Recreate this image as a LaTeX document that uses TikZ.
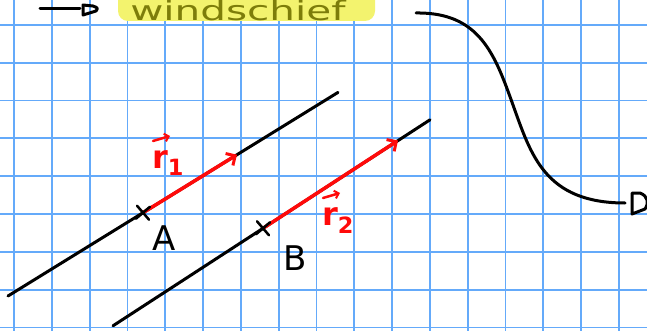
\documentclass[tikz,border=0pt]{standalone}
\usepackage{fontspec}
\setmainfont{DejaVu Sans}
\usetikzlibrary{arrows.meta,calc}
\definecolor{gridblue}{RGB}{100,170,250}
\definecolor{hl}{RGB}{243,243,110}
\definecolor{olivetext}{RGB}{125,125,10}
\definecolor{penred}{RGB}{255,10,10}
\tikzset{
  gridline/.style={gridblue, line width=1.8pt},
  pen/.style={black, line width=3pt, line cap=round, line join=round},
  redpen/.style={penred, line width=3.5pt, line cap=round, line join=round},
  vecarrow/.style={redpen, -{Straight Barb[length=7pt, width=14pt, line width=3pt]}},
  accent/.style={penred, line width=2.5pt, line cap=round, -{Straight Barb[length=4pt, width=8pt, line width=2pt]}},
  lbl/.style={inner sep=0pt, font=\fontsize{34}{34}\selectfont},
  rlbl/.style={inner sep=0pt, text=penred, font=\fontsize{32}{32}\selectfont\bfseries},
}
\begin{document}
\begin{tikzpicture}[x=1pt, y=-1pt]
\useasboundingbox (0,0) rectangle (647,331);
\fill[white] (0,0) rectangle (647,331);
% grid
\foreach \k in {0,...,16} {\draw[gridline] ({14+37.8*\k},0) -- ({14+37.8*\k},331);}
\foreach \k in {0,...,8} {\draw[gridline] (0,{25+37.8*\k}) -- (647,{25+37.8*\k});}
% heading
\coordinate (h0) at (40,9);
\coordinate (h1) at (80,9);
\draw[pen] (h0) -- (h1);
\draw[pen] (83,5) -- (83,15) -- (96,11) .. controls (98,8) .. (93,6) -- cycle;
\fill[hl, rounded corners=10pt] (118,-12) rectangle (375,21);
\node[inner sep=0pt, text=olivetext, font=\fontsize{27}{27}\selectfont, anchor=base west, xscale=1.5] (word) at (130,21) {windschief};
% curve
\coordinate (c0) at (416,13);
\coordinate (c1) at (513,105);
\coordinate (c2) at (625,203);
\draw[pen] (c0) .. controls (480,12) and (495,55) .. (c1)
           .. controls (531,155) and (545,203) .. (c2);
\draw[pen] (632,193) -- (632,214) -- (645,209) .. controls (649,203) and (648,196) .. (640,193) -- cycle;
% lines
\coordinate (A) at (143,212.7);
\coordinate (B) at (263,228.3);
\coordinate (L1s) at (8,296);
\coordinate (L1e) at (338,92.4);
\coordinate (L2s) at (113,325.8);
\coordinate (L2e) at (430,119.8);
\coordinate (T1) at (237,154.7);
\coordinate (T2) at (398,140.5);
\draw[pen] (L1s) -- (L1e);
\draw[pen] (L2s) -- (L2e);
\draw[vecarrow] (A) -- (T1);
\draw[vecarrow] (B) -- (T2);
% crosses
\foreach \p in {A,B} {
  \draw[pen, line width=2.5pt] ($(\p)+(-6,-7)$) -- ($(\p)+(6,7)$);
  \draw[pen, line width=2.5pt] ($(\p)+(-7,6)$) -- ($(\p)+(7,-6)$);
}
% labels
\node[lbl] (la) at (164,238) {A};
\node[lbl] (lb) at (295,258) {B};
\node[rlbl, anchor=base west] (r1) at (152,168) {r\textsubscript{1}};
\node[rlbl, anchor=base west] (r2) at (322,225) {r\textsubscript{2}};
\draw[accent] ($(r1.base west)+(1,-27)$) -- ++(17,-5);
\draw[accent] ($(r2.base west)+(1,-27)$) -- ++(17,-5);
\end{tikzpicture}
\end{document}
